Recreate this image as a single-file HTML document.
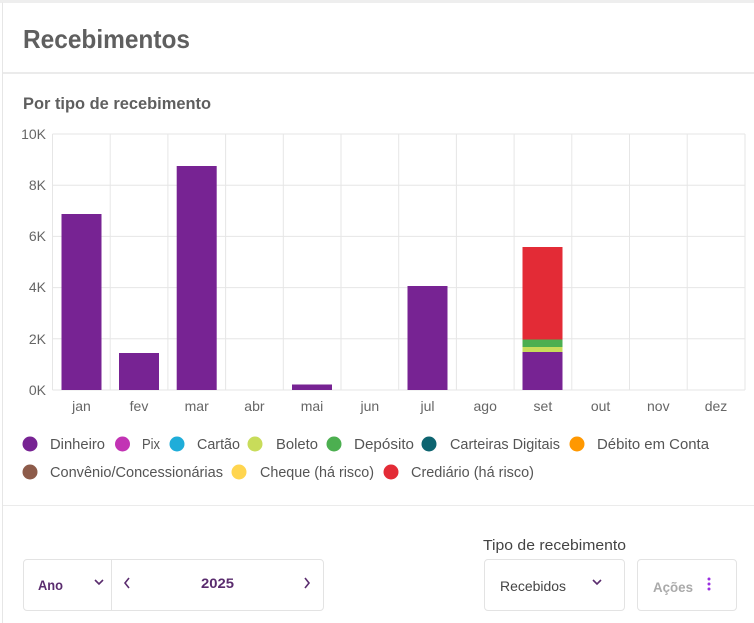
<!DOCTYPE html>
<html><head><meta charset="utf-8"><style>
body{margin:0;width:754px;height:613px;background:#fff;font-family:"Liberation Sans",sans-serif;position:relative;overflow:hidden}
.card{position:absolute;left:2px;top:2px;width:760px;height:620px;border-left:1px solid #e6e6e6;border-top:1px solid #eee}
.top{position:absolute;left:0;top:0;width:754px;height:3px;background:#eee}
.hr{position:absolute;left:3px;width:751px;height:2px;background:#ebebeb}
.box{position:absolute;border:1px solid #e3e3e3;border-radius:4px;box-sizing:border-box}
</style></head><body>
<div class="top"></div>
<div class="card"></div>
<div class="hr" style="top:72px"></div>
<div class="hr" style="top:505px;height:1px"></div>
<div class="box" style="left:23px;top:559px;width:301px;height:52px"></div>
<div style="position:absolute;left:111px;top:560px;width:1px;height:50px;background:#e3e3e3"></div>
<div class="box" style="left:484px;top:559px;width:141px;height:52px"></div>
<div class="box" style="left:637px;top:559px;width:100px;height:52px"></div>
<svg width="754" height="613" style="position:absolute;left:0;top:0" font-family="Liberation Sans, sans-serif">
<text x="23" y="48" font-size="26" font-weight="bold" fill="#5f5f5f" textLength="167" lengthAdjust="spacingAndGlyphs">Recebimentos</text>
<text x="23" y="109" font-size="16.5" font-weight="bold" fill="#5f5f5f" textLength="188" lengthAdjust="spacingAndGlyphs">Por tipo de recebimento</text>
<g stroke="#e6e6e6" stroke-width="1">
<line x1="52.5" y1="134" x2="745" y2="134"/><line x1="52.5" y1="185.2" x2="745" y2="185.2"/><line x1="52.5" y1="236.4" x2="745" y2="236.4"/><line x1="52.5" y1="287.6" x2="745" y2="287.6"/><line x1="52.5" y1="338.8" x2="745" y2="338.8"/><line x1="52.5" y1="390" x2="745" y2="390"/>
<line x1="52.5" y1="134" x2="52.5" y2="390"/><line x1="110.2" y1="134" x2="110.2" y2="390"/><line x1="167.9" y1="134" x2="167.9" y2="390"/><line x1="225.6" y1="134" x2="225.6" y2="390"/><line x1="283.3" y1="134" x2="283.3" y2="390"/><line x1="341" y1="134" x2="341" y2="390"/><line x1="398.7" y1="134" x2="398.7" y2="390"/><line x1="456.4" y1="134" x2="456.4" y2="390"/><line x1="514.1" y1="134" x2="514.1" y2="390"/><line x1="571.8" y1="134" x2="571.8" y2="390"/><line x1="629.5" y1="134" x2="629.5" y2="390"/><line x1="687.2" y1="134" x2="687.2" y2="390"/><line x1="745" y1="134" x2="745" y2="390"/>
</g>
<g font-size="14" fill="#666" text-anchor="end">
<text x="46" y="139">10K</text><text x="46" y="190">8K</text><text x="46" y="241">6K</text><text x="46" y="292">4K</text><text x="46" y="344">2K</text><text x="46" y="395">0K</text>
</g>
<g font-size="14" fill="#666" text-anchor="middle">
<text x="81.5" y="411">jan</text><text x="139" y="411">fev</text><text x="196.7" y="411">mar</text><text x="254.4" y="411">abr</text><text x="312" y="411">mai</text><text x="369.8" y="411">jun</text><text x="427.5" y="411">jul</text><text x="485.2" y="411">ago</text><text x="542.9" y="411">set</text><text x="600.6" y="411">out</text><text x="658.3" y="411">nov</text><text x="716" y="411">dez</text>
</g>
<g fill="#772393">
<rect x="61.5" y="214" width="40" height="176"/>
<rect x="119" y="353" width="40" height="37"/>
<rect x="176.7" y="166" width="40" height="224"/>
<rect x="292" y="384.5" width="40" height="5.5"/>
<rect x="407.5" y="286" width="40" height="104"/>
<rect x="522.5" y="352" width="40" height="38"/>
</g>
<rect x="522.5" y="347" width="40" height="5" fill="#c8dc5a"/>
<rect x="522.5" y="339.5" width="40" height="7.5" fill="#4caf50"/>
<rect x="522.5" y="247" width="40" height="92.5" fill="#e32b36"/>
<g font-size="14.5" fill="#555" lengthAdjust="spacingAndGlyphs">
<circle cx="30" cy="444" r="7.5" fill="#772393"/><text x="50" y="449" textLength="55" lengthAdjust="spacingAndGlyphs">Dinheiro</text>
<circle cx="122.5" cy="444" r="7.5" fill="#c233b4"/><text x="142" y="449" textLength="18" lengthAdjust="spacingAndGlyphs">Pix</text>
<circle cx="177" cy="444" r="7.5" fill="#1fadd9"/><text x="197" y="449" textLength="43" lengthAdjust="spacingAndGlyphs">Cartão</text>
<circle cx="255" cy="444" r="7.5" fill="#c8dc5a"/><text x="276" y="449" textLength="42" lengthAdjust="spacingAndGlyphs">Boleto</text>
<circle cx="334" cy="444" r="7.5" fill="#4caf50"/><text x="354" y="449" textLength="60" lengthAdjust="spacingAndGlyphs">Depósito</text>
<circle cx="429" cy="444" r="7.5" fill="#0d6470"/><text x="450" y="449" textLength="110" lengthAdjust="spacingAndGlyphs">Carteiras Digitais</text>
<circle cx="577" cy="444" r="7.5" fill="#ff9800"/><text x="597" y="449" textLength="112" lengthAdjust="spacingAndGlyphs">Débito em Conta</text>
<circle cx="30" cy="472" r="7.5" fill="#8d5b4a"/><text x="50" y="477" textLength="173" lengthAdjust="spacingAndGlyphs">Convênio/Concessionárias</text>
<circle cx="239" cy="472" r="7.5" fill="#ffd54f"/><text x="260" y="477" textLength="114" lengthAdjust="spacingAndGlyphs">Cheque (há risco)</text>
<circle cx="391" cy="472" r="7.5" fill="#e32b36"/><text x="411" y="477" textLength="123" lengthAdjust="spacingAndGlyphs">Crediário (há risco)</text>
</g>
<text x="483" y="550" font-size="14.5" fill="#444" textLength="143" lengthAdjust="spacingAndGlyphs">Tipo de recebimento</text>
<text x="38" y="590" font-size="14" font-weight="bold" fill="#5a2c6e" textLength="25" lengthAdjust="spacingAndGlyphs">Ano</text>
<text x="201" y="588" font-size="14" font-weight="bold" fill="#5a2c6e" textLength="33" lengthAdjust="spacingAndGlyphs">2025</text>
<text x="500" y="591" font-size="14" fill="#444" textLength="66" lengthAdjust="spacingAndGlyphs">Recebidos</text>
<text x="653" y="592" font-size="14" font-weight="bold" fill="#aaa" textLength="40" lengthAdjust="spacingAndGlyphs">Ações</text>
<g fill="none" stroke="#5a2c6e" stroke-width="1.6">
<polyline points="95,580 99,584 103,580"/>
<polyline points="129,578 125,583 129,588"/>
<polyline points="305,578 309,583 305,588"/>
<polyline points="593,580 597,584 601,580"/>
</g>
<g fill="#9b30e0"><circle cx="709" cy="579" r="1.5"/><circle cx="709" cy="584" r="1.5"/><circle cx="709" cy="589" r="1.5"/></g>
</svg>
</body></html>
